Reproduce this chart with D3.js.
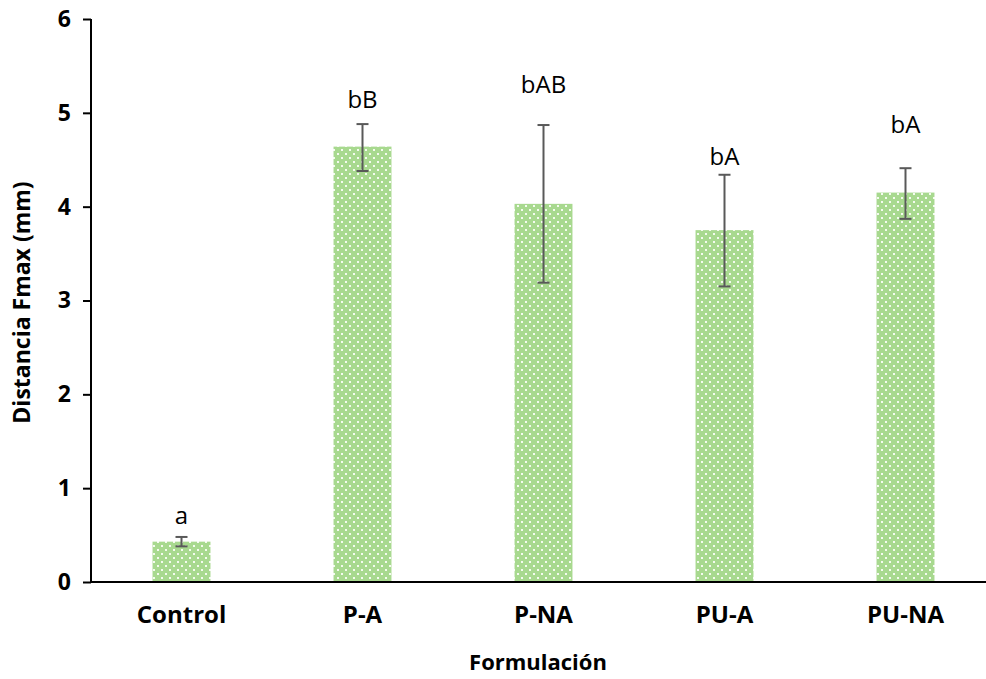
<!DOCTYPE html>
<html>
<head>
<meta charset="utf-8">
<script src="https://d3js.org/d3.v7.min.js"></script>
<style>
  body { margin: 0; background: #fff; }
  svg { display: block; }
  text { font-family: "Open Sans", sans-serif; }
</style>
</head>
<body>
<script>
// chart values
var categories = ["Control", "P-A", "P-NA", "PU-A", "PU-NA"];
var means      = [0.43, 4.64, 4.03, 3.75, 4.15];
var errLow     = [0.38, 4.38, 3.19, 3.15, 3.87];
var errHigh    = [0.48, 4.88, 4.87, 4.34, 4.41];
var letters    = ["a", "bB", "bAB", "bA", "bA"];
var letterPos  = [0.62, 5.05, 5.21, 4.44, 4.79];
var yTicks     = [0, 1, 2, 3, 4, 5, 6];

var W = 986, H = 679;
var margin = {top: 19, right: -10, bottom: 97, left: 91};

var svg = d3.select("body").append("svg")
  .attr("width", W).attr("height", H);

var defs = svg.append("defs");
var pat = defs.append("pattern")
  .attr("id", "dots")
  .attr("patternUnits", "userSpaceOnUse")
  .attr("width", 8).attr("height", 8);
pat.append("rect").attr("width", 8).attr("height", 8).attr("fill", "#a8d98f");
pat.append("rect").attr("x", 1).attr("y", 1).attr("width", 2).attr("height", 2).attr("fill", "#f4fbef");
pat.append("rect").attr("x", 5).attr("y", 5).attr("width", 2).attr("height", 2).attr("fill", "#f4fbef");

var x = d3.scaleBand()
  .domain(categories)
  .range([margin.left, W - margin.right])
  .paddingInner(0.68).paddingOuter(0.34);

var y = d3.scaleLinear()
  .domain([0, 6])
  .range([H - margin.bottom, margin.top]);

// bars
svg.selectAll(".bar")
  .data(categories)
  .enter().append("rect")
  .attr("class", "bar")
  .attr("x", function(d) { return x(d); })
  .attr("width", x.bandwidth())
  .attr("y", function(d, i) { return y(means[i]); })
  .attr("height", function(d, i) { return y(0) - y(means[i]); })
  .attr("fill", "url(#dots)");

// error bars
var eb = svg.selectAll(".err")
  .data(categories)
  .enter().append("g")
  .attr("class", "err")
  .attr("stroke", "#595959")
  .attr("stroke-width", 2);

eb.append("line")
  .attr("x1", function(d) { return x(d) + x.bandwidth() / 2; })
  .attr("x2", function(d) { return x(d) + x.bandwidth() / 2; })
  .attr("y1", function(d, i) { return y(errLow[i]); })
  .attr("y2", function(d, i) { return y(errHigh[i]); });
eb.append("line")
  .attr("x1", function(d) { return x(d) + x.bandwidth() / 2 - 6; })
  .attr("x2", function(d) { return x(d) + x.bandwidth() / 2 + 6; })
  .attr("y1", function(d, i) { return y(errHigh[i]); })
  .attr("y2", function(d, i) { return y(errHigh[i]); });
eb.append("line")
  .attr("x1", function(d) { return x(d) + x.bandwidth() / 2 - 6; })
  .attr("x2", function(d) { return x(d) + x.bandwidth() / 2 + 6; })
  .attr("y1", function(d, i) { return y(errLow[i]); })
  .attr("y2", function(d, i) { return y(errLow[i]); });

// significance letters
svg.selectAll(".letter")
  .data(categories)
  .enter().append("text")
  .attr("class", "letter")
  .attr("x", function(d) { return x(d) + x.bandwidth() / 2; })
  .attr("y", function(d, i) { return y(letterPos[i]); })
  .attr("text-anchor", "middle")
  .style("font-size", "24px")
  .attr("fill", "#000")
  .text(function(d, i) { return letters[i]; });

// y axis
var yAxis = svg.append("g")
  .attr("transform", "translate(" + margin.left + ",0)")
  .call(d3.axisLeft(y).tickValues(yTicks).tickSize(8).tickPadding(12).tickFormat(d3.format("d")));
yAxis.selectAll("line, path").attr("stroke", "#000").attr("stroke-width", 2);
yAxis.select(".domain").attr("d", "M0," + y(6) + "V" + y(0));
yAxis.selectAll("text")
  .style("font-size", "23px").style("font-weight", "bold")
  .style("font-family", "'Open Sans', sans-serif").attr("fill", "#000");

// x axis
var xAxis = svg.append("g")
  .attr("transform", "translate(0," + y(0) + ")")
  .call(d3.axisBottom(x).tickSize(0).tickPadding(24));
xAxis.select(".domain").attr("stroke", "#000").attr("stroke-width", 2)
  .attr("d", "M" + margin.left + ",0H" + W);
xAxis.selectAll("text")
  .style("font-size", "24px").style("font-weight", "bold")
  .style("font-family", "'Open Sans', sans-serif").attr("fill", "#000");

// axis titles
svg.append("text")
  .attr("x", 538).attr("y", 670)
  .attr("text-anchor", "middle")
  .style("font-size", "22px").style("font-weight", "bold")
  .text("Formulación");

svg.append("text")
  .attr("transform", "translate(30," + ((y(0) + y(6)) / 2 + 2) + ") rotate(-90)")
  .attr("text-anchor", "middle")
  .style("font-size", "23px").style("font-weight", "bold")
  .text("Distancia Fmax (mm)");
</script>
</body>
</html>
